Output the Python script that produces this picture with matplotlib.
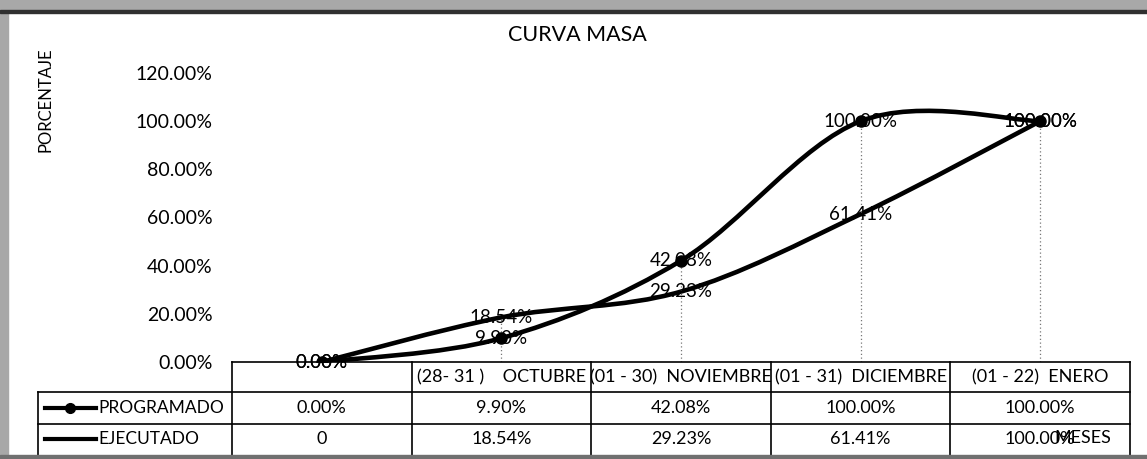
import numpy as np
import matplotlib.pyplot as plt
from matplotlib.path import Path
from matplotlib.patches import PathPatch, Rectangle
from matplotlib.lines import Line2D
import matplotlib.transforms as mtransforms

plt.rcParams['font.family'] = ['Lato', 'DejaVu Sans']

meses = ['', '(28- 31 )    OCTUBRE', '(01 - 30)  NOVIEMBRE',
         '(01 - 31)  DICIEMBRE', '(01 - 22)  ENERO']
programado = [0.00, 9.90, 42.08, 100.00, 100.00]
ejecutado = [0.00, 18.54, 29.23, 61.41, 100.00]
prog_txt = ['0.00%', '9.90%', '42.08%', '100.00%', '100.00%']
ejec_txt = ['0', '18.54%', '29.23%', '61.41%', '100.00%']
yticks = [0, 20, 40, 60, 80, 100, 120]

W, H = 1147, 459
fig = plt.figure(figsize=(W / 100, H / 100), dpi=100)
ax = fig.add_axes([232 / W, (H - 362) / H, 898 / W, 289 / H])


def smooth_path(xs, ys):
    # excel-like smoothed line: bezier with catmull-rom tangents
    p = np.column_stack([xs, ys]).astype(float)
    n = len(p)
    tg = []
    for i in range(n):
        a = p[max(i - 1, 0)]
        b = p[min(i + 1, n - 1)]
        tg.append((b - a) / 2.0)
    verts = [tuple(p[0])]
    codes = [Path.MOVETO]
    for i in range(n - 1):
        verts += [tuple(p[i] + tg[i] / 3), tuple(p[i + 1] - tg[i + 1] / 3), tuple(p[i + 1])]
        codes += [Path.CURVE4] * 3
    return Path(verts, codes)


x = np.arange(len(meses))

# drop lines
tops = [max(a, b) for a, b in zip(programado, ejecutado)]
ax.vlines(x[1:], 0, tops[1:], colors='#777777', linestyles=(0, (1, 2)), lw=0.9)

for serie in [ejecutado, programado]:
    ax.add_patch(PathPatch(smooth_path(x, serie), fill=False, lw=3.3,
                           edgecolor='black', capstyle='round', joinstyle='round'))
ax.plot(x, programado, 'o', color='black', ms=8)

for xi, v in zip(x, programado):
    ax.text(xi, v, '%.2f%%' % v, ha='center', va='center', fontsize=13.5, color='black')
for xi, v in zip(x, ejecutado):
    ax.text(xi, v, '%.2f%%' % v, ha='center', va='center', fontsize=13.5, color='black')

ax.set_xlim(-0.5, 4.5)
ax.set_ylim(0, 120)
ax.set_yticks(yticks)
ax.set_yticklabels(['%.2f%%' % t for t in yticks], fontsize=14)
ax.tick_params(axis='y', length=0, pad=14)
ax.set_xticks([])
for s in ['left', 'right', 'top', 'bottom']:
    ax.spines[s].set_visible(False)

# data table below the axis
tr = mtransforms.blended_transform_factory(ax.transData, ax.transAxes)
r0, r1, r2, r3 = 0.0, -0.1038, -0.2145, -0.3218
xl = -1.58
lk = dict(color='black', lw=1.2, transform=tr, clip_on=False)
ax.add_line(Line2D([-0.5, 4.5], [r0, r0], **lk))
for r in [r1, r2]:
    ax.add_line(Line2D([xl, 4.5], [r, r], **lk))
for c in [-0.5, 0.5, 1.5, 2.5, 3.5, 4.5]:
    ax.add_line(Line2D([c, c], [r0, r3], **lk))
ax.add_line(Line2D([xl, xl], [r1, r3], **lk))

for i, m in enumerate(meses):
    ax.text(i, (r0 + r1) / 2, m, transform=tr, ha='center', va='center', fontsize=13)
for i in range(len(meses)):
    ax.text(i, (r1 + r2) / 2, prog_txt[i], transform=tr, ha='center', va='center', fontsize=13)
    ax.text(i, (r2 + r3) / 2, ejec_txt[i], transform=tr, ha='center', va='center', fontsize=13)

ax.add_line(Line2D([-1.541, -1.257], [(r1 + r2) / 2] * 2, color='black', lw=3,
                   transform=tr, clip_on=False))
ax.add_line(Line2D([-1.40], [(r1 + r2) / 2], marker='o', ms=7, color='black',
                   transform=tr, clip_on=False))
ax.add_line(Line2D([-1.541, -1.257], [(r2 + r3) / 2] * 2, color='black', lw=3,
                   transform=tr, clip_on=False))
ax.text(-1.246, (r1 + r2) / 2, 'PROGRAMADO', transform=tr, ha='left', va='center', fontsize=12.5)
ax.text(-1.246, (r2 + r3) / 2, 'EJECUTADO', transform=tr, ha='left', va='center', fontsize=12.5)

# titles
fig.text(577 / W, 1 - 35 / H, 'CURVA MASA', ha='center', va='center', fontsize=15.5)
fig.text(45 / W, 1 - 100 / H, 'PORCENTAJE', ha='center', va='center', rotation=90, fontsize=12)
fig.text(1083 / W, 1 - 438 / H, 'MESES', ha='center', va='center', fontsize=13)

# scanned frame
fig.patches.append(Rectangle((0, 0), 8 / W, 1, transform=fig.transFigure,
                             color='#a8a8a8', zorder=0))
fig.patches.append(Rectangle((0, 1 - 10 / H), 1, 10 / H, transform=fig.transFigure,
                             color='#a8a8a8', zorder=0))
fig.patches.append(Rectangle((0, 1 - 13 / H), 1, 3 / H, transform=fig.transFigure,
                             color='#303030', zorder=0))
fig.patches.append(Rectangle((0, 0), 1, 4 / H, transform=fig.transFigure,
                             color='#707070', zorder=0))

fig.savefig('out.png', dpi=100)
